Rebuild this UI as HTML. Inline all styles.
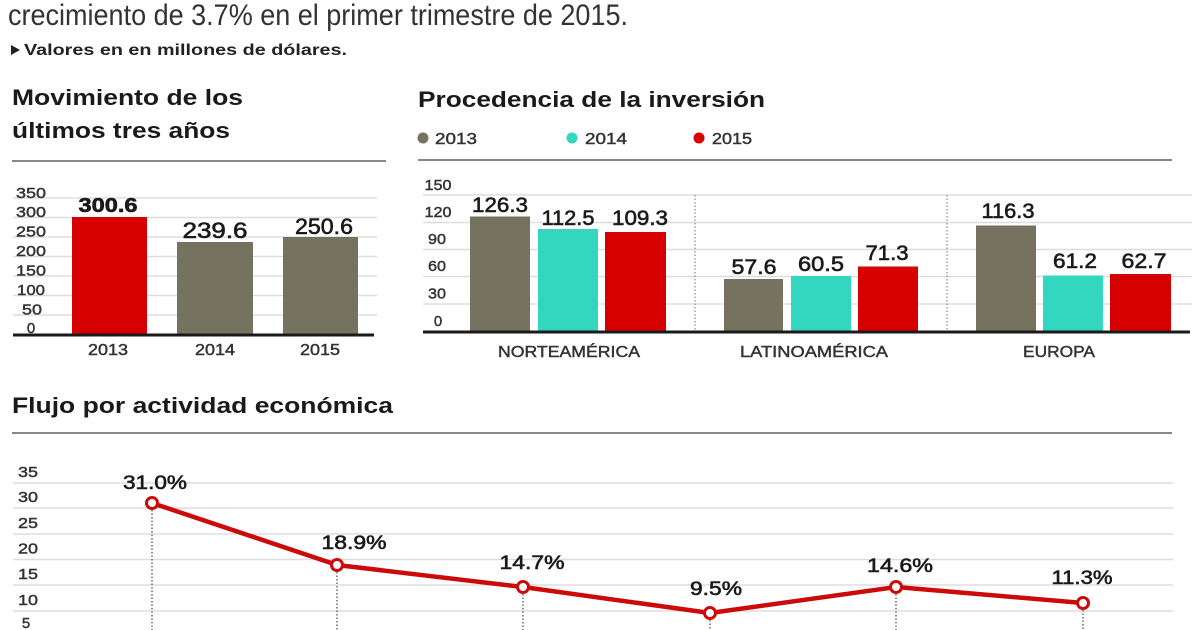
<!DOCTYPE html>
<html><head><meta charset="utf-8"><style>
html,body{margin:0;padding:0;background:#fff;}
svg{display:block;font-family:"Liberation Sans",sans-serif;}
.w{stroke:#1a1a1a;stroke-width:0.6;}
.t{stroke:#333;stroke-width:0.45;}
</style></head><body>
<svg width="1200" height="630" viewBox="0 0 1200 630" xmlns="http://www.w3.org/2000/svg">
<rect width="1200" height="630" fill="#fff"/>
<!-- header -->
<text x="8" y="25" font-size="30" fill="#333" textLength="620" lengthAdjust="spacingAndGlyphs">crecimiento de 3.7% en el primer trimestre de 2015.</text>
<polygon points="11,45 20,50 11,55" fill="#222"/>
<text x="24" y="55" font-size="16" font-weight="bold" fill="#222" textLength="323" lengthAdjust="spacingAndGlyphs">Valores en en millones de dólares.</text>

<!-- left chart -->
<text x="12" y="105" font-size="22" font-weight="bold" fill="#1a1a1a" textLength="231" lengthAdjust="spacingAndGlyphs">Movimiento de los</text>
<text x="12" y="138" font-size="22" font-weight="bold" fill="#1a1a1a" textLength="218" lengthAdjust="spacingAndGlyphs">últimos tres años</text>
<line x1="12" y1="161" x2="386" y2="161" stroke="#888" stroke-width="2"/>
<g stroke="#ddd" stroke-width="1.5">
<line x1="13" y1="198" x2="377" y2="198"/>
<line x1="13" y1="217.5" x2="377" y2="217.5"/>
<line x1="13" y1="237" x2="377" y2="237"/>
<line x1="13" y1="256.5" x2="377" y2="256.5"/>
<line x1="13" y1="276" x2="377" y2="276"/>
<line x1="13" y1="295.5" x2="377" y2="295.5"/>
<line x1="13" y1="315" x2="377" y2="315"/>
</g>
<g font-size="15" fill="#333" text-anchor="middle" class="t">
<text x="31" y="198" textLength="30" lengthAdjust="spacingAndGlyphs">350</text>
<text x="31" y="217" textLength="30" lengthAdjust="spacingAndGlyphs">300</text>
<text x="31" y="236.5" textLength="30" lengthAdjust="spacingAndGlyphs">250</text>
<text x="31" y="256" textLength="30" lengthAdjust="spacingAndGlyphs">200</text>
<text x="31" y="275.5" textLength="30" lengthAdjust="spacingAndGlyphs">150</text>
<text x="31" y="295" textLength="28" lengthAdjust="spacingAndGlyphs">100</text>
<text x="32" y="314.5" textLength="20" lengthAdjust="spacingAndGlyphs">50</text>
<text x="31" y="333">0</text>
</g>
<rect x="72" y="217" width="75" height="117" fill="#d70000"/>
<rect x="177" y="242" width="76" height="92" fill="#757360"/>
<rect x="283" y="237" width="75" height="97" fill="#757360"/>
<line x1="13" y1="335" x2="374" y2="335" stroke="#1a1a1a" stroke-width="3"/>
<g fill="#1a1a1a" text-anchor="middle">
<text x="108" y="212" font-size="20" font-weight="bold" textLength="59" lengthAdjust="spacingAndGlyphs" class="w">300.6</text>
<text x="215" y="238" font-size="22" textLength="65" lengthAdjust="spacingAndGlyphs" class="w">239.6</text>
<text x="324" y="234" font-size="22" textLength="58" lengthAdjust="spacingAndGlyphs" class="w">250.6</text>
</g>
<g fill="#333" font-size="16" text-anchor="middle" class="t">
<text x="108" y="355" textLength="40" lengthAdjust="spacingAndGlyphs">2013</text>
<text x="215" y="355" textLength="40" lengthAdjust="spacingAndGlyphs">2014</text>
<text x="320" y="355" textLength="40" lengthAdjust="spacingAndGlyphs">2015</text>
</g>

<!-- middle/right chart -->
<text x="418" y="107" font-size="22" font-weight="bold" fill="#1a1a1a" textLength="347" lengthAdjust="spacingAndGlyphs">Procedencia de la inversión</text>
<circle cx="423" cy="138" r="5.5" fill="#757360"/>
<text x="435" y="144" font-size="16" fill="#333" textLength="42" lengthAdjust="spacingAndGlyphs" class="t">2013</text>
<circle cx="572" cy="138" r="5.5" fill="#33d6be"/>
<text x="585" y="144" font-size="16" fill="#333" textLength="42" lengthAdjust="spacingAndGlyphs" class="t">2014</text>
<circle cx="699" cy="138" r="5.5" fill="#d70000"/>
<text x="712" y="144" font-size="16" fill="#333" textLength="40" lengthAdjust="spacingAndGlyphs" class="t">2015</text>
<line x1="418" y1="160" x2="1172" y2="160" stroke="#888" stroke-width="2"/>
<g stroke="#ddd" stroke-width="1.5">
<line x1="423" y1="195" x2="1192" y2="195"/>
<line x1="423" y1="222.5" x2="1192" y2="222.5"/>
<line x1="423" y1="249.5" x2="1192" y2="249.5"/>
<line x1="423" y1="276.5" x2="1192" y2="276.5"/>
<line x1="423" y1="304" x2="1192" y2="304"/>
</g>
<g stroke="#888" stroke-width="1.2" stroke-dasharray="1.5,2">
<line x1="695" y1="195" x2="695" y2="331"/>
<line x1="947" y1="195" x2="947" y2="331"/>
</g>
<g font-size="15" fill="#333" text-anchor="middle" class="t">
<text x="438" y="190" textLength="27" lengthAdjust="spacingAndGlyphs">150</text>
<text x="438" y="217" textLength="27" lengthAdjust="spacingAndGlyphs">120</text>
<text x="437" y="244" textLength="18" lengthAdjust="spacingAndGlyphs">90</text>
<text x="437" y="271" textLength="18" lengthAdjust="spacingAndGlyphs">60</text>
<text x="437" y="298.5" textLength="18" lengthAdjust="spacingAndGlyphs">30</text>
<text x="438" y="326">0</text>
</g>
<rect x="470" y="216.5" width="60" height="114.5" fill="#757360"/>
<rect x="538" y="229" width="60" height="102" fill="#33d6be"/>
<rect x="605" y="232" width="61" height="99" fill="#d70000"/>
<rect x="724" y="279" width="59" height="52" fill="#757360"/>
<rect x="791" y="276" width="60" height="55" fill="#33d6be"/>
<rect x="858" y="266.5" width="60" height="64.5" fill="#d70000"/>
<rect x="976" y="225.5" width="60" height="105.5" fill="#757360"/>
<rect x="1043" y="275.5" width="60" height="55.5" fill="#33d6be"/>
<rect x="1110" y="274" width="61" height="57" fill="#d70000"/>
<line x1="423" y1="332" x2="1190" y2="332" stroke="#1a1a1a" stroke-width="3"/>
<g fill="#1a1a1a" font-size="21" text-anchor="middle" class="w">
<text x="500" y="212" textLength="56" lengthAdjust="spacingAndGlyphs">126.3</text>
<text x="568" y="225" textLength="53" lengthAdjust="spacingAndGlyphs">112.5</text>
<text x="640" y="225" textLength="56" lengthAdjust="spacingAndGlyphs">109.3</text>
<text x="754" y="274" textLength="45" lengthAdjust="spacingAndGlyphs">57.6</text>
<text x="821" y="271" textLength="46" lengthAdjust="spacingAndGlyphs">60.5</text>
<text x="887" y="260" textLength="43" lengthAdjust="spacingAndGlyphs">71.3</text>
<text x="1008" y="218" textLength="53" lengthAdjust="spacingAndGlyphs">116.3</text>
<text x="1075" y="268" textLength="44" lengthAdjust="spacingAndGlyphs">61.2</text>
<text x="1144" y="268" textLength="45" lengthAdjust="spacingAndGlyphs">62.7</text>
</g>
<g fill="#333" font-size="16" text-anchor="middle" class="t">
<text x="569" y="357" textLength="142" lengthAdjust="spacingAndGlyphs">NORTEAMÉRICA</text>
<text x="814" y="357" textLength="148" lengthAdjust="spacingAndGlyphs">LATINOAMÉRICA</text>
<text x="1059" y="357" textLength="72" lengthAdjust="spacingAndGlyphs">EUROPA</text>
</g>

<!-- line chart -->
<text x="12" y="413" font-size="22" font-weight="bold" fill="#1a1a1a" textLength="381" lengthAdjust="spacingAndGlyphs">Flujo por actividad económica</text>
<line x1="12" y1="433" x2="1172" y2="433" stroke="#888" stroke-width="2"/>
<g stroke="#ddd" stroke-width="1.5">
<line x1="13" y1="483" x2="1173" y2="483"/>
<line x1="13" y1="508" x2="1173" y2="508"/>
<line x1="13" y1="534" x2="1173" y2="534"/>
<line x1="13" y1="559.5" x2="1173" y2="559.5"/>
<line x1="13" y1="585" x2="1173" y2="585"/>
<line x1="13" y1="611" x2="1173" y2="611"/>
</g>
<g font-size="15" fill="#333" text-anchor="middle" class="t">
<text x="28" y="477" textLength="20" lengthAdjust="spacingAndGlyphs">35</text>
<text x="28" y="502" textLength="20" lengthAdjust="spacingAndGlyphs">30</text>
<text x="28" y="528" textLength="20" lengthAdjust="spacingAndGlyphs">25</text>
<text x="28" y="553.5" textLength="20" lengthAdjust="spacingAndGlyphs">20</text>
<text x="28" y="579" textLength="20" lengthAdjust="spacingAndGlyphs">15</text>
<text x="28" y="605" textLength="20" lengthAdjust="spacingAndGlyphs">10</text>
<text x="26" y="628">5</text>
</g>
<g stroke="#555" stroke-width="1.3" stroke-dasharray="1.5,2">
<line x1="152" y1="510" x2="152" y2="630"/>
<line x1="337" y1="572" x2="337" y2="630"/>
<line x1="523" y1="594" x2="523" y2="630"/>
<line x1="710" y1="620" x2="710" y2="630"/>
<line x1="896" y1="594" x2="896" y2="630"/>
<line x1="1083" y1="610" x2="1083" y2="630"/>
</g>
<polyline points="152,503 337,565 523,587 710,613 896,587 1083,603" fill="none" stroke="#cc0a0a" stroke-width="4.5" stroke-linejoin="round"/>
<g fill="#fff" stroke="#cc0a0a" stroke-width="3">
<circle cx="152" cy="503" r="5.5"/>
<circle cx="337" cy="565" r="5.5"/>
<circle cx="523" cy="587" r="5.5"/>
<circle cx="710" cy="613" r="5.5"/>
<circle cx="896" cy="587" r="5.5"/>
<circle cx="1083" cy="603" r="5.5"/>
</g>
<g fill="#1a1a1a" font-size="19" text-anchor="middle" class="w">
<text x="155" y="489" textLength="64" lengthAdjust="spacingAndGlyphs">31.0%</text>
<text x="354" y="549" textLength="65" lengthAdjust="spacingAndGlyphs">18.9%</text>
<text x="532" y="569" textLength="65" lengthAdjust="spacingAndGlyphs">14.7%</text>
<text x="716" y="595" textLength="52" lengthAdjust="spacingAndGlyphs">9.5%</text>
<text x="900" y="572" textLength="66" lengthAdjust="spacingAndGlyphs">14.6%</text>
<text x="1082" y="584" textLength="61" lengthAdjust="spacingAndGlyphs">11.3%</text>
</g>
</svg>
</body></html>
